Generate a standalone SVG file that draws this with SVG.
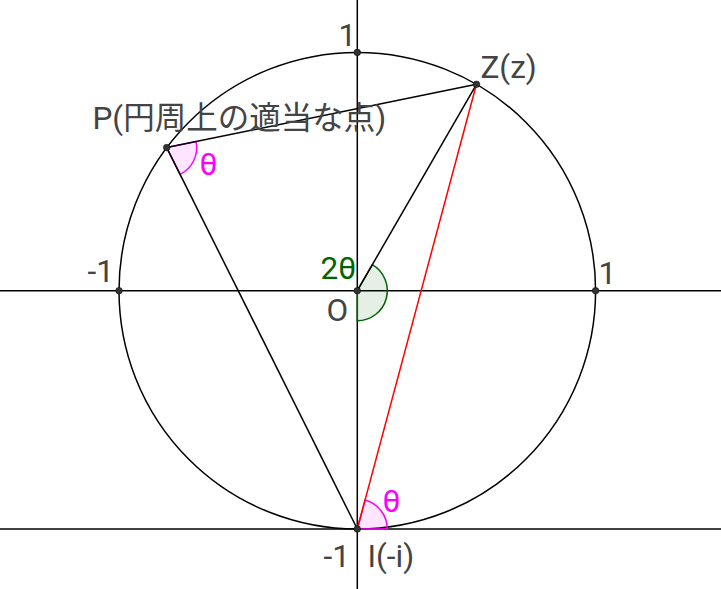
<svg xmlns="http://www.w3.org/2000/svg" width="721" height="589" viewBox="0 0 721 589">
<style>
.ax{stroke:#000;stroke-width:1.5;fill:none}
.ln{stroke:#000;stroke-width:1.5;fill:none}
.red{stroke:#ff0000;stroke-width:1.5;fill:none}
.pt{fill:#333;stroke:#000;stroke-width:0.5}
.lbl{font-family:Roboto,"Noto Sans CJK JP",sans-serif;font-size:31.5px;fill:#444}
.mag{font-family:Roboto,sans-serif;font-size:31.5px;fill:#ff00ff}
.grn{font-family:Roboto,sans-serif;font-size:31.5px;fill:#006400}
.angM{fill:#ff00ff;fill-opacity:0.1;stroke:#ff00ff;stroke-width:1.5}
.angG{fill:#006400;fill-opacity:0.1;stroke:#006400;stroke-width:1.5}
</style>
<rect width="721" height="589" fill="#fff"/>
<g id="axes">
<line class="ax" x1="0" y1="290.7" x2="721" y2="290.7"/>
<line class="ax" x1="357.3" y1="0" x2="357.3" y2="589"/>
<line class="ax" x1="0" y1="529" x2="721" y2="529"/>
</g>
<g id="circle">
<circle class="ln" cx="357.3" cy="290.7" r="238.3"/>
</g>
<g id="angles">
<path id="angle-O" class="angG" d="M357.3,290.7 L372.3,264.72 A30,30 0 0,1 357.3,320.7 Z"/>
<path id="angle-I" class="angM" d="M357.3,529 L387.3,529 A30,30 0 0,0 365.06,500.02 Z"/>
<path id="angle-P" class="angM" d="M166.7,147.6 L196.09,141.59 A30,30 0 0,1 180.11,174.44 Z"/>
</g>
<g id="connectors">
<line class="ln" x1="166.7" y1="147.6" x2="476.45" y2="84.3"/>
<line class="ln" x1="166.7" y1="147.6" x2="357.3" y2="529"/>
<line class="ln" x1="357.3" y1="290.7" x2="476.45" y2="84.3"/>
<line class="red" x1="357.3" y1="529" x2="476.45" y2="84.3"/>
</g>
<g id="node-Z">
<circle class="pt" cx="476.45" cy="84.3" r="3.3"/>
<text class="lbl" x="480.5" y="77.7">Z(z)</text>
</g>
<g id="node-P">
<circle class="pt" cx="166.7" cy="147.6" r="3.3"/>
<text class="lbl" x="92.5" y="129.3">P(円周上の適当な点)</text>
</g>
<g id="node-O">
<circle class="pt" cx="357.3" cy="290.7" r="3.3"/>
<text class="lbl" x="326.5" y="321">O</text>
</g>
<g id="node-I">
<circle class="pt" cx="357.3" cy="529" r="3.3"/>
<text class="lbl" x="367.5" y="567.3">I(-i)</text>
</g>
<g id="node-top">
<circle class="pt" cx="357.3" cy="52.4" r="3.3"/>
<text class="lbl" x="338.5" y="45.7">1</text>
</g>
<g id="node-left">
<circle class="pt" cx="119" cy="290.7" r="3.3"/>
<text class="lbl" x="87.5" y="281.7">-1</text>
</g>
<g id="node-right">
<circle class="pt" cx="595.6" cy="290.7" r="3.3"/>
<text class="lbl" x="598.5" y="284.3">1</text>
</g>
<g id="bottom-label">
<text class="lbl" x="323.5" y="567.3">-1</text>
</g>
<g id="angle-labels">
<text class="grn" x="320.5" y="279.3">2θ</text>
<text class="mag" x="199.5" y="175">θ</text>
<text class="mag" x="382.5" y="511.7">θ</text>
</g>
</svg>
